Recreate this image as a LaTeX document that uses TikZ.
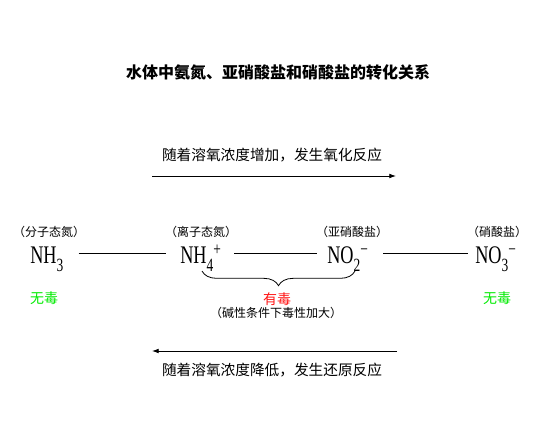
\documentclass[tikz,border=0pt]{standalone}
\usepackage{fontspec}
\newfontfamily\cjk{Noto Sans CJK SC}
\newfontfamily\chemfont{Liberation Serif}
\usetikzlibrary{arrows.meta,decorations.pathreplacing}
\definecolor{toxred}{RGB}{255,20,20}
\definecolor{safegreen}{RGB}{0,235,0}
% species with lowered index and raised charge, set narrow
\newcommand{\ionf}[3]{\scalebox{0.72}[1]{#1\raisebox{-5.5pt}{\fontsize{14}{14}\selectfont #2}\raisebox{6.5pt}{\fontsize{14}{14}\selectfont #3}}}
\begin{document}
\begin{tikzpicture}[x=0.75pt,y=-0.75pt,
  species/.style={inner sep=0pt, anchor=base west, font=\chemfont\fontsize{19}{20}\selectfont},
  state/.style={font=\cjk\fontsize{9}{11}\selectfont},
  tox/.style={font=\cjk\fontsize{10.5}{12}\selectfont},
  flow/.style={-{Latex[length=5pt,width=3.5pt]}, line width=0.6pt},
  bond/.style={line width=0.6pt}]
\useasboundingbox (0,0) rectangle (550,438);

% Title
\node[font=\cjk\bfseries\fontsize{12}{14}\selectfont] (title) at (278,72) {水体中氨氮、亚硝酸盐和硝酸盐的转化关系};

% Upper: oxidation
\node[font=\cjk\fontsize{11}{13}\selectfont] (oxtext) at (272,155) {随着溶氧浓度增加，发生氧化反应};
\coordinate (ox-a) at (152,176);
\coordinate (ox-b) at (396,176);
\draw[flow] (ox-a) -- (ox-b);

% Species row
\node[species] (nh3) at (30,264) {\ionf{NH}{3}{}};
\node[species] (nh4) at (180,264) {\ionf{NH}{4}{+}};
\node[species] (no2) at (327,264) {\ionf{NO}{2}{−}};
\node[species] (no3) at (475,264) {\ionf{NO}{3}{−}};
\draw[bond] ([shift={(15,-11)}]nh3.base east) -- ([shift={(-14,-11)}]nh4.base west);
\draw[bond] ([shift={(13,-11)}]nh4.base east) -- ([shift={(-10,-11)}]no2.base west);
\draw[bond] ([shift={(15,-11)}]no2.base east) -- ([shift={(-7,-11)}]no3.base west);

% States above species
\node[state] (s1) at (49,232) {（分子态氮）};
\node[state] (s2) at (201,232) {（离子态氮）};
\node[state] (s3) at (352,232) {（亚硝酸盐）};
\node[state] (s4) at (497,232) {（硝酸盐）};

% Toxicity
\node[tox, text=safegreen] (t1) at (44,298) {无毒};
\node[tox, text=safegreen] (t4) at (497,298) {无毒};
\draw[bond, decorate, decoration={brace, mirror, amplitude=11pt}] (202,271) -- (355,271);
\node[tox, text=toxred] (t2) at (277,299) {有毒};
\node[state] (t3) at (276,313) {（碱性条件下毒性加大）};

% Lower: reduction
\coordinate (red-a) at (397,351);
\coordinate (red-b) at (152,351);
\draw[flow] (red-a) -- (red-b);
\node[font=\cjk\fontsize{11}{13}\selectfont] (redtext) at (272,370) {随着溶氧浓度降低，发生还原反应};
\end{tikzpicture}
\end{document}
